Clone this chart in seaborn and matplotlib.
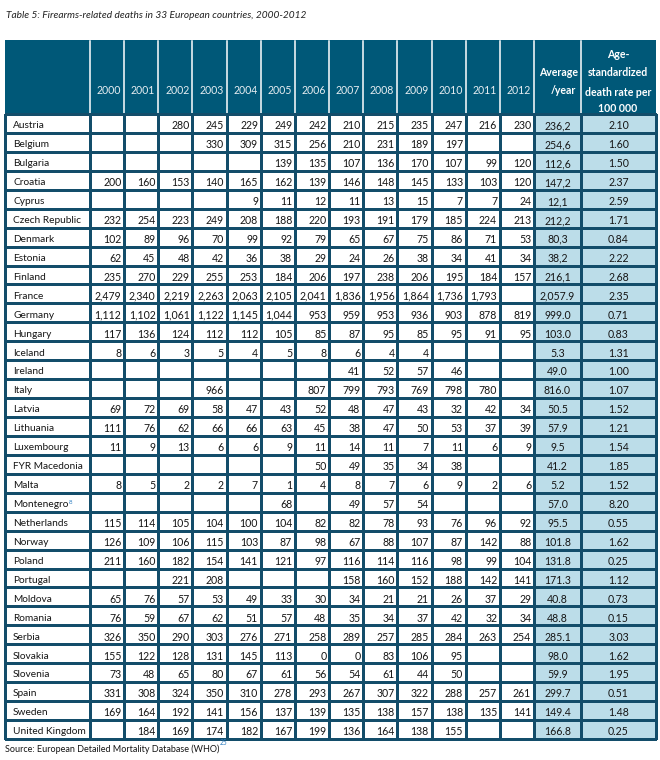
#!/usr/bin/env python3

import numpy as np
import matplotlib.pyplot as plt
import seaborn as sns
from matplotlib.colors import ListedColormap

years = ['2000', '2001', '2002', '2003', '2004', '2005', '2006',
         '2007', '2008', '2009', '2010', '2011', '2012']

countries = ['Austria', 'Belgium', 'Bulgaria', 'Croatia', 'Cyprus', 'Czech Republic',
             'Denmark', 'Estonia', 'Finland', 'France', 'Germany', 'Hungary', 'Iceland',
             'Ireland', 'Italy', 'Latvia', 'Lithuania', 'Luxembourg', 'FYR Macedonia',
             'Malta', 'Montenegro', 'Netherlands', 'Norway', 'Poland', 'Portugal',
             'Moldova', 'Romania', 'Serbia', 'Slovakia', 'Slovenia', 'Spain', 'Sweden',
             'United Kingdom']

# deaths per year, 2000..2012 (None = no data)
deaths = [
    [None, None, 280, 245, 229, 249, 242, 210, 215, 235, 247, 216, 230],
    [None, None, None, 330, 309, 315, 256, 210, 231, 189, 197, None, None],
    [None, None, None, None, None, 139, 135, 107, 136, 170, 107, 99, 120],
    [200, 160, 153, 140, 165, 162, 139, 146, 148, 145, 133, 103, 120],
    [None, None, None, None, 9, 11, 12, 11, 13, 15, 7, 7, 24],
    [232, 254, 223, 249, 208, 188, 220, 193, 191, 179, 185, 224, 213],
    [102, 89, 96, 70, 99, 92, 79, 65, 67, 75, 86, 71, 53],
    [62, 45, 48, 42, 36, 38, 29, 24, 26, 38, 34, 41, 34],
    [235, 270, 229, 255, 253, 184, 206, 197, 238, 206, 195, 184, 157],
    [2479, 2340, 2219, 2263, 2063, 2105, 2041, 1836, 1956, 1864, 1736, 1793, None],
    [1112, 1102, 1061, 1122, 1145, 1044, 953, 959, 953, 936, 903, 878, 819],
    [117, 136, 124, 112, 112, 105, 85, 87, 95, 85, 95, 91, 95],
    [8, 6, 3, 5, 4, 5, 8, 6, 4, 4, None, None, None],
    [None, None, None, None, None, None, None, 41, 52, 57, 46, None, None],
    [None, None, None, 966, None, None, 807, 799, 793, 769, 798, 780, None],
    [69, 72, 69, 58, 47, 43, 52, 48, 47, 43, 32, 42, 34],
    [111, 76, 62, 66, 66, 63, 45, 38, 47, 50, 53, 37, 39],
    [11, 9, 13, 6, 6, 9, 11, 14, 11, 7, 11, 6, 9],
    [None, None, None, None, None, None, 50, 49, 35, 34, 38, None, None],
    [8, 5, 2, 2, 7, 1, 4, 8, 7, 6, 9, 2, 6],
    [None, None, None, None, None, 68, None, 49, 57, 54, None, None, None],
    [115, 114, 105, 104, 100, 104, 82, 82, 78, 93, 76, 96, 92],
    [126, 109, 106, 115, 103, 87, 98, 67, 88, 107, 87, 142, 88],
    [211, 160, 182, 154, 141, 121, 97, 116, 114, 116, 98, 99, 104],
    [None, None, 221, 208, None, None, None, 158, 160, 152, 188, 142, 141],
    [65, 76, 57, 53, 49, 33, 30, 34, 21, 21, 26, 37, 29],
    [76, 59, 67, 62, 51, 57, 48, 35, 34, 37, 42, 32, 34],
    [326, 350, 290, 303, 276, 271, 258, 289, 257, 285, 284, 263, 254],
    [155, 122, 128, 131, 145, 113, 0, 0, 83, 106, 95, None, None],
    [73, 48, 65, 80, 67, 61, 56, 54, 61, 44, 50, None, None],
    [331, 308, 324, 350, 310, 278, 293, 267, 307, 322, 288, 257, 261],
    [169, 164, 192, 141, 156, 137, 139, 135, 138, 157, 138, 135, 141],
    [None, 184, 169, 174, 182, 167, 199, 136, 164, 138, 155, None, None],
]

average = ['236,2', '254,6', '112,6', '147,2', '12,1', '212,2', '80,3', '38,2', '216,1',
           '2,057.9', '999.0', '103.0', '5.3', '49.0', '816.0', '50.5', '57.9', '9.5',
           '41.2', '5.2', '57.0', '95.5', '101.8', '131.8', '171.3', '40.8', '48.8',
           '285.1', '98.0', '59.9', '299.7', '149.4', '166.8']

rate = [2.10, 1.60, 1.50, 2.37, 2.59, 1.71, 0.84, 2.22, 2.68, 2.35, 0.71, 0.83, 1.31,
        1.00, 1.07, 1.52, 1.21, 1.54, 1.85, 1.52, 8.20, 0.55, 1.62, 0.25, 1.12, 0.73,
        0.15, 3.03, 1.62, 1.95, 0.51, 1.48, 0.25]

W, H = 660, 760
dark = '#005878'
line = '#134d6a'
light = '#bcdde9'
ink = '#151515'
font = 'Lato'
fs = 7.6
fs_name = 7.3

plt.rcParams['font.family'] = [font, 'DejaVu Sans']

fig = plt.figure(figsize=(W / 100, H / 100), dpi=100)


def px_axes(x0, x1, y0, y1):
    return fig.add_axes([x0 / W, 1 - y1 / H, (x1 - x0) / W, (y1 - y0) / H])


top, bottom = 114, 739
x_country = (5, 90)
x_years = (90, 534)
x_avg = (534, 581)
x_rate = (581, 656)


def table_block(ax, labels, color, ha, pad, size=fs):
    labels = np.asarray(labels, dtype=object)
    sns.heatmap(np.zeros(labels.shape), cmap=ListedColormap([color]), vmin=0, vmax=1,
                cbar=False, linewidths=1.0, linecolor=line, annot=labels, fmt='',
                annot_kws={'fontsize': size, 'color': ink, 'family': font},
                xticklabels=False, yticklabels=False, ax=ax)
    ax.collections[0].set_clip_on(False)
    for t in ax.texts:
        x, y = t.get_position()
        if ha == 'right':
            t.set_position((x + 0.5 - pad, y + 0.12))
        elif ha == 'left':
            t.set_position((x - 0.5 + pad, y + 0.12))
        else:
            t.set_position((x, y + 0.12))
        t.set_ha(ha)


year_txt = [['' if v is None else f'{v:,}' for v in row] for row in deaths]

ax_c = px_axes(*x_country, top, bottom)
table_block(ax_c, [[c] for c in countries], 'white', 'left', 0.095, fs_name)

ax_y = px_axes(*x_years, top, bottom)
table_block(ax_y, year_txt, 'white', 'right', 0.08)

ax_a = px_axes(*x_avg, top, bottom)
table_block(ax_a, [[a] for a in average], light, 'center', 0)

ax_r = px_axes(*x_rate, top, bottom)
table_block(ax_r, [[f'{r:.2f}'] for r in rate], light, 'center', 0)

# page layer: title, header band, source
page = fig.add_axes([0, 0, 1, 1], zorder=-1)
page.set_xlim(0, W)
page.set_ylim(H, 0)
page.axis('off')

page.text(6, 15, 'Table 5: Firearms-related deaths in 33 European countries, 2000-2012',
          fontsize=7.3, style='italic', color='#222222', va='center', ha='left')

page.add_patch(plt.Rectangle((x_country[0], 40), x_rate[1] - x_country[0], top - 40,
                             color=dark, lw=0))
col_w = (x_years[1] - x_years[0]) / len(years)
edges = [x_country[1]] + [x_years[0] + col_w * (k + 1) for k in range(len(years))] + [x_avg[1]]
for e in edges:
    page.plot([e, e], [41, top], color='white', lw=1.1)
for k, yr in enumerate(years):
    page.text(x_years[0] + col_w * (k + 1) - 3, 91, yr, fontsize=fs, color='#e6edf1',
              ha='right', va='center')
page.text(578, 72, 'Average', fontsize=fs, color='white', fontweight='bold', ha='right', va='center')
page.text(576, 91, '/year', fontsize=fs, color='white', fontweight='bold', ha='right', va='center')
for yy, s in zip([55, 73, 92, 109], ['Age-', 'standardized', 'death rate per', '100 000']):
    page.text(618, yy, s, fontsize=fs, color='white', fontweight='bold', ha='center', va='center')

src = page.text(5, 749, 'Source: European Detailed Mortality Database (WHO)', fontsize=6.5,
                color=ink, ha='left', va='center')

fig.canvas.draw()
r = fig.canvas.get_renderer()
bb = src.get_window_extent(renderer=r)
fig.text(bb.x1 / W + 0.001, bb.y1 / H - 0.002, '25', fontsize=4.8, color='#2f7fc1',
         ha='left', va='bottom')
mont = [t for t in ax_c.texts if t.get_text() == 'Montenegro'][0]
bb = mont.get_window_extent(renderer=r)
fig.text(bb.x1 / W + 0.001, bb.y1 / H - 0.006, '8', fontsize=4.5, color='#2f7fc1',
         ha='left', va='bottom')

fig.savefig('out.png', dpi=100, facecolor='white')
